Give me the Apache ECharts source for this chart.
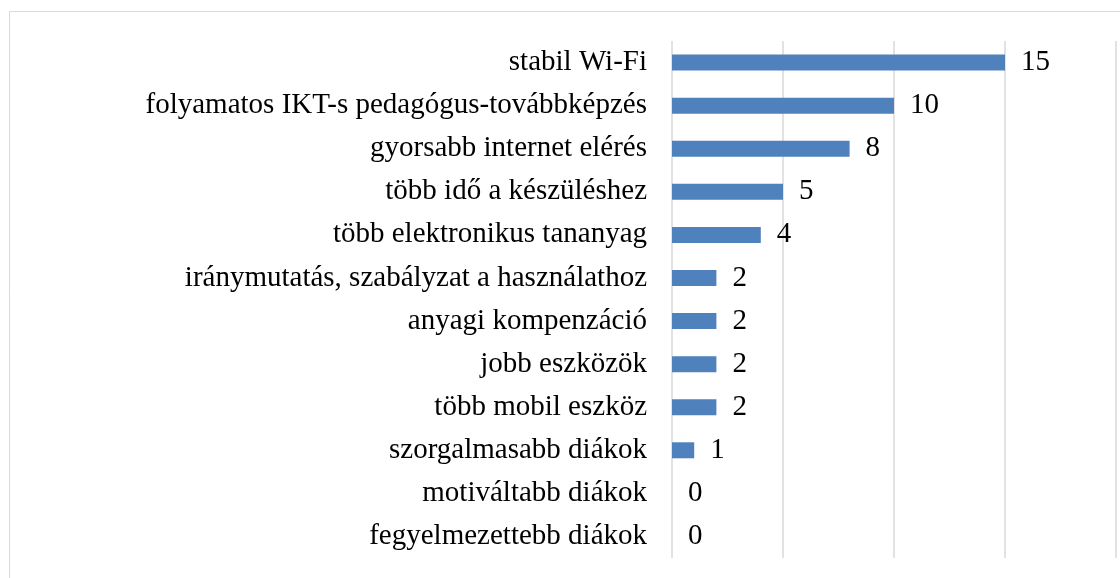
<!DOCTYPE html>
<html>
<head>
<meta charset="utf-8">
<script src="https://cdn.jsdelivr.net/npm/echarts@6/dist/echarts.min.js"></script>
<style>
  html, body { margin: 0; padding: 0; background: #ffffff; }
  #chart { width: 1120px; height: 578px; }
</style>
</head>
<body>
<div id="chart"></div>
<script>
// Categories listed from top to bottom
const categories = [
  'stabil Wi-Fi',
  'folyamatos IKT-s pedagógus-továbbképzés',
  'gyorsabb internet elérés',
  'több idő a készüléshez',
  'több elektronikus tananyag',
  'iránymutatás, szabályzat a használathoz',
  'anyagi kompenzáció',
  'jobb eszközök',
  'több mobil eszköz',
  'szorgalmasabb diákok',
  'motiváltabb diákok',
  'fegyelmezettebb diákok'
];
const counts = [15, 10, 8, 5, 4, 2, 2, 2, 2, 1, 0, 0];

const FONT = '"Liberation Serif", "Times New Roman", serif';

const chart = echarts.init(document.getElementById('chart'), null, { renderer: 'canvas' });
chart.setOption({
  animation: false,
  backgroundColor: '#ffffff',
  graphic: [{
    type: 'rect',
    shape: { x: 9.5, y: 11.5, width: 1130, height: 600 },
    style: { fill: 'none', stroke: '#d9d9d9', lineWidth: 1 },
    silent: true
  }],
  grid: { left: 672, right: 4, top: 41, bottom: 20, containLabel: false },
  xAxis: {
    type: 'value',
    min: 0,
    max: 20,
    interval: 5,
    axisLine: { show: false },
    axisTick: { show: false },
    axisLabel: { show: false },
    splitLine: { show: true, lineStyle: { color: '#d9d9d9', width: 1.5 } }
  },
  yAxis: {
    type: 'category',
    inverse: true,
    data: categories,
    axisLine: { show: false },
    axisTick: { show: false },
    axisLabel: {
      margin: 25,
      color: '#000000',
      fontFamily: FONT,
      fontSize: 29,
      padding: [2, 0, 0, 0]
    }
  },
  series: [{
    type: 'bar',
    data: counts,
    barWidth: 16,
    itemStyle: { color: '#4f81bd' },
    label: {
      show: true,
      position: 'right',
      distance: 16,
      color: '#000000',
      fontFamily: FONT,
      fontSize: 29,
      padding: [4, 0, 0, 0]
    }
  }]
});
</script>
</body>
</html>
